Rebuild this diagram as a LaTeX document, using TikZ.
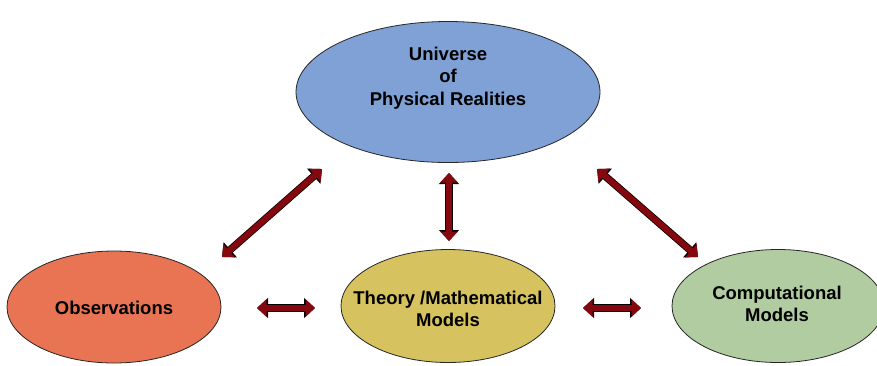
\documentclass[tikz,border=0pt]{standalone}
\usepackage{fontspec}
\setmainfont{Liberation Sans}
\usetikzlibrary{shapes.geometric,arrows.meta}
\definecolor{univblue}{RGB}{127,161,213}
\definecolor{obsorange}{RGB}{232,116,84}
\definecolor{theoyellow}{RGB}{214,194,94}
\definecolor{compgreen}{RGB}{176,204,160}
\definecolor{arrowred}{RGB}{132,8,14}
\tikzset{
  blob/.style={ellipse, draw=black!85, line width=0.8pt, inner sep=0pt},
  lbl/.style={font=\fontsize{18.5}{22.5}\selectfont\bfseries, align=center, inner sep=0pt},
  dblarrow/.style={draw=arrowred, line width=6pt,
    {Triangle[width=17pt,length=9.5pt]}-{Triangle[width=17pt,length=9.5pt]},
    preaction={draw=black, line width=7.5pt,
      {Triangle[width=19.5pt,length=11pt]}-{Triangle[width=19.5pt,length=11pt]}}}
}
\begin{document}
\begin{tikzpicture}[x=1pt, y=-1pt]
  \useasboundingbox (0,0) rectangle (877,365);
  % Ellipses
  \node[blob, fill=univblue, minimum width=304pt, minimum height=141pt] (univ) at (448,92) {};
  \node[blob, fill=obsorange, minimum width=214pt, minimum height=112pt] (obs) at (114,307) {};
  \node[blob, fill=theoyellow, minimum width=214pt, minimum height=113pt] (theo) at (448,306) {};
  \node[blob, fill=compgreen, minimum width=212pt, minimum height=113pt] (comp) at (778,306) {};
  % Texts
  \node[lbl] (univtxt) at (448,78) {Universe\\of\\Physical Realities};
  \node[lbl] (obstxt) at (114,308) {Observations};
  \node[lbl] (theotxt) at (448,309) {Theory /Mathematical\\Models};
  \node[lbl] (comptxt) at (777,304) {Computational\\Models};
  % Arrow ends
  \coordinate (obsU) at (222,257);
  \coordinate (univL) at (322,169);
  \coordinate (univB) at (449,173);
  \coordinate (theoT) at (449,241);
  \coordinate (univR) at (597,169);
  \coordinate (compU) at (698,257);
  \coordinate (obsR) at (257,308);
  \coordinate (theoL) at (315,308);
  \coordinate (theoR) at (583,308);
  \coordinate (compL) at (641,308);
  % Arrows
  \draw[dblarrow] (obsU) -- (univL);
  \draw[dblarrow] (univB) -- (theoT);
  \draw[dblarrow] (univR) -- (compU);
  \draw[dblarrow] (obsR) -- (theoL);
  \draw[dblarrow] (theoR) -- (compL);
\end{tikzpicture}
\end{document}
